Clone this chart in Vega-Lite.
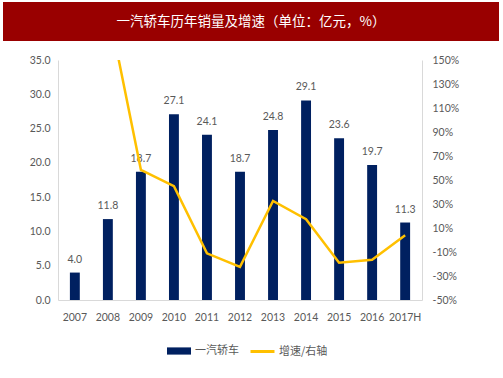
{
  "$schema": "https://vega.github.io/schema/vega-lite/v6.json",
  "background": "white",
  "padding": {"left": 3, "top": 2, "right": 4, "bottom": 0},
  "spacing": 14,
  "config": {
    "view": {"stroke": null},
    "axis": {"labelFont": "Lato", "labelFontSize": 10.5, "labelColor": "#595959", "ticks": false, "grid": false, "domainColor": "#d9d9d9", "title": null}
  },
  "vconcat": [
    {
      "width": 496,
      "height": 39,
      "view": {"fill": "#990000", "stroke": null},
      "data": {"values": [{"t": "一汽轿车历年销量及增速（单位：亿元，%）"}]},
      "mark": {"type": "text", "color": "white", "font": "Noto Sans CJK SC", "fontSize": 13.5},
      "encoding": {"text": {"field": "t"}}
    },
    {
      "width": 419,
      "height": 240,
      "data": {"values": [
        {"year": "2007", "sales": 4.0, "growth": null},
        {"year": "2008", "sales": 11.8, "growth": 195},
        {"year": "2009", "sales": 18.7, "growth": 58.5},
        {"year": "2010", "sales": 27.1, "growth": 44.9},
        {"year": "2011", "sales": 24.1, "growth": -11.1},
        {"year": "2012", "sales": 18.7, "growth": -22.4},
        {"year": "2013", "sales": 24.8, "growth": 32.6},
        {"year": "2014", "sales": 29.1, "growth": 17.3},
        {"year": "2015", "sales": 23.6, "growth": -18.9},
        {"year": "2016", "sales": 19.7, "growth": -16.5},
        {"year": "2017H", "sales": 11.3, "growth": 4}
      ]},
      "encoding": {
        "x": {"field": "year", "type": "nominal", "sort": null,
          "scale": {"range": [55, 419], "paddingInner": 0.7, "paddingOuter": 0.36},
          "axis": {"labelAngle": 0, "labelPadding": 12}}
      },
      "layer": [
        {
          "encoding": {
            "y": {"field": "sales", "type": "quantitative", "scale": {"domain": [0, 35]},
              "axis": {"values": [0, 5, 10, 15, 20, 25, 30, 35], "format": ".1f", "labelPadding": 8, "offset": -55}}
          },
          "layer": [
            {
              "mark": {"type": "bar"},
              "encoding": {
                "fill": {"datum": "一汽轿车", "scale": {"range": ["#002060"]},
                  "legend": {"orient": "none", "legendX": 163, "legendY": 336, "title": null, "symbolType": "M-1,-0.3H1V0.3H-1Z", "symbolSize": 576, "labelFont": "Noto Sans CJK SC", "labelFontSize": 11, "labelColor": "#595959", "symbolOpacity": 1, "labelOffset": 3}}
              }
            },
            {
              "mark": {"type": "text", "dy": -13, "font": "Lato", "fontSize": 10.5, "color": "#595959"},
              "encoding": {
                "text": {"field": "sales", "type": "quantitative", "format": ".1f"}
              }
            }
          ]
        },
        {
          "transform": [{"filter": "datum.growth != null"}],
          "mark": {"type": "line", "clip": true, "strokeWidth": 2.5},
          "encoding": {
            "y": {"field": "growth", "type": "quantitative", "scale": {"domain": [-50, 150]},
              "axis": {"orient": "right", "values": [-50, -30, -10, 10, 30, 50, 70, 90, 110, 130, 150], "labelExpr": "datum.value + '%'", "labelPadding": 10}},
            "stroke": {"datum": "增速/右轴", "scale": {"range": ["#FFC000"]},
              "legend": {"orient": "none", "legendX": 246, "legendY": 336, "title": null, "symbolType": "stroke", "symbolSize": 576, "symbolStrokeWidth": 3, "labelFont": "Noto Sans CJK SC", "labelFontSize": 11, "labelColor": "#595959", "labelOffset": 3}}
          }
        }
      ],
      "resolve": {"scale": {"y": "independent"}}
    }
  ]
}
